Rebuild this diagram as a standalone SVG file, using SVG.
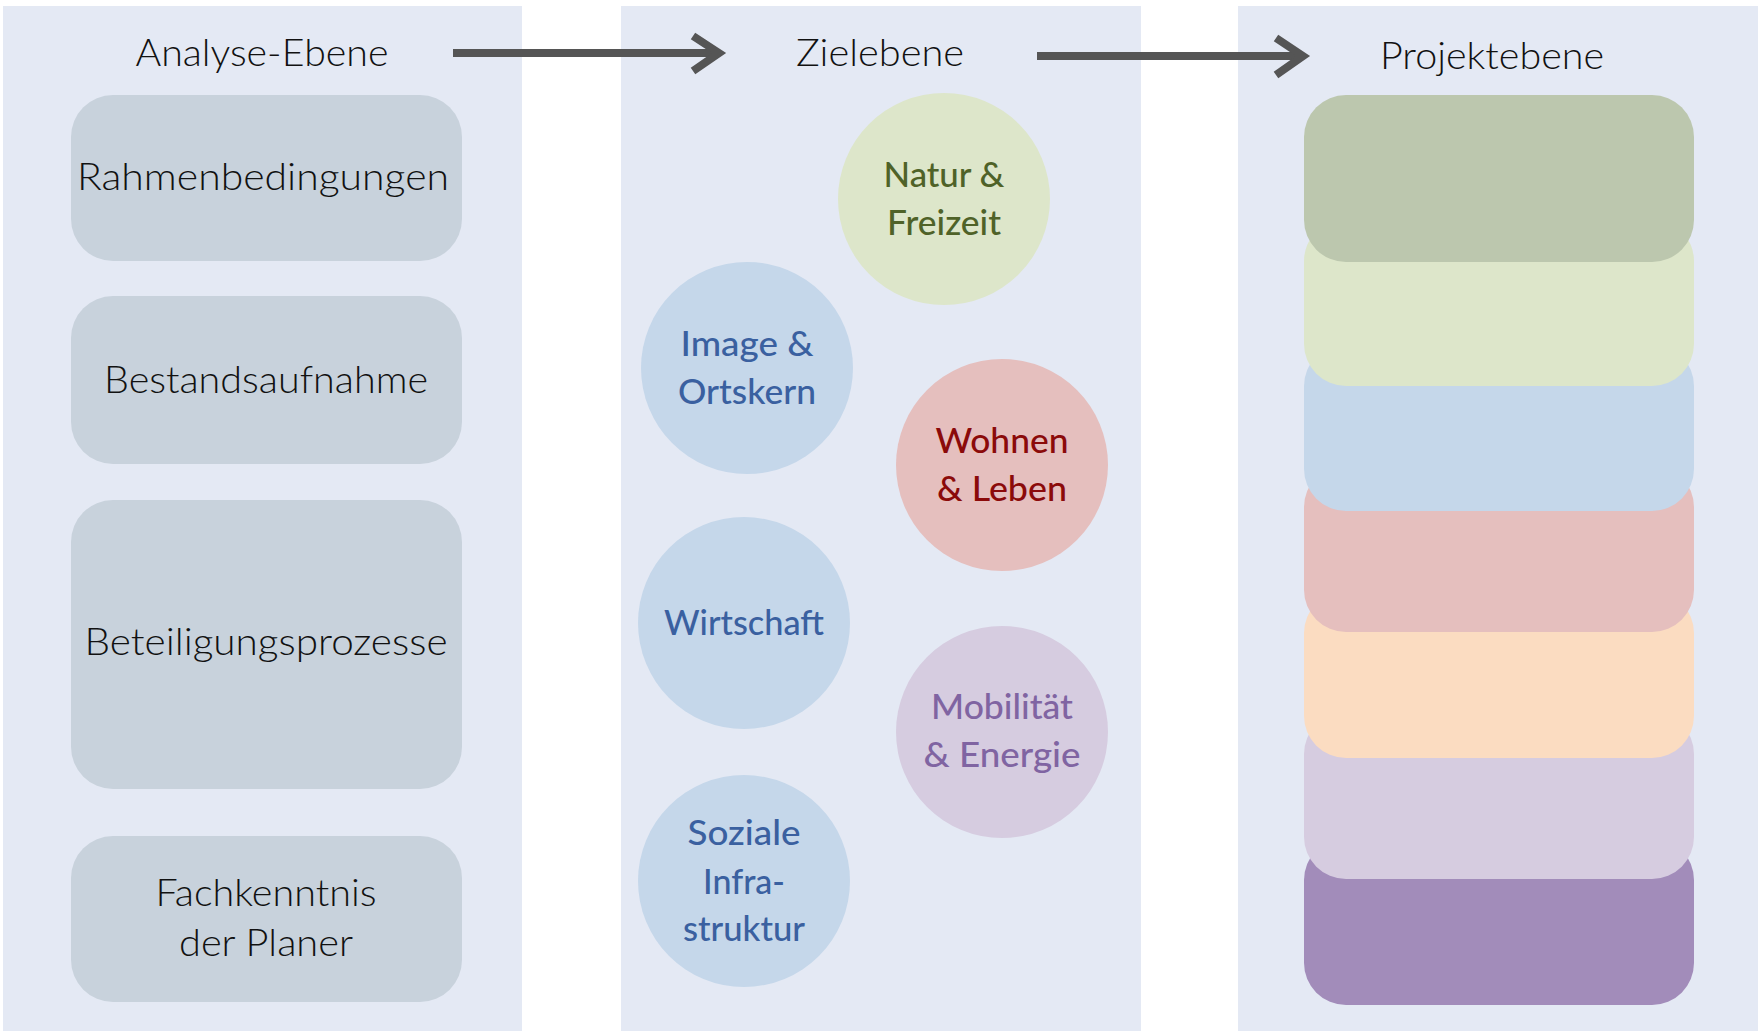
<svg xmlns="http://www.w3.org/2000/svg" width="1758" height="1031" viewBox="0 0 1758 1031">
<style>
.panel{fill:#E4E9F4}
.box{fill:#C8D2DC}
.t{font-family:Lato,"Noto Sans","Liberation Sans",sans-serif;font-size:37px;font-weight:300;fill:#111;text-anchor:middle}
.c{font-family:Lato,"Noto Sans","Liberation Sans",sans-serif;font-size:35px;font-weight:500;text-anchor:middle}
.conn{stroke:#555;stroke-width:8;fill:none}
.head{stroke:#555;stroke-width:8;fill:none;stroke-linecap:butt;stroke-linejoin:miter}
</style>
<rect width="1758" height="1031" fill="#fff"/>
<g id="panels">
<rect class="panel" x="3" y="6" width="519" height="1025"/>
<rect class="panel" x="621" y="6" width="520" height="1025"/>
<rect class="panel" x="1238" y="6" width="520" height="1025"/>
</g>
<g id="titles">
<text class="t" x="262" y="66" textLength="253" lengthAdjust="spacingAndGlyphs">Analyse-Ebene</text>
<text class="t" x="880" y="66" textLength="168" lengthAdjust="spacingAndGlyphs">Zielebene</text>
<text class="t" x="1492" y="69" textLength="224" lengthAdjust="spacingAndGlyphs">Projektebene</text>
</g>
<g id="connectors">
<line class="conn" x1="453" y1="53" x2="718" y2="53"/>
<polyline class="head" points="693,36 719,53 693,71"/>
<line class="conn" x1="1037" y1="56" x2="1302" y2="56"/>
<polyline class="head" points="1276,38 1303,56 1276,75"/>
</g>
<g id="n-rahmen"><rect class="box" x="71" y="95" width="391" height="166" rx="42"/><text class="t" x="263" y="190" textLength="372" lengthAdjust="spacingAndGlyphs">Rahmenbedingungen</text></g>
<g id="n-bestand"><rect class="box" x="71" y="296" width="391" height="168" rx="42"/><text class="t" x="266" y="393" textLength="324" lengthAdjust="spacingAndGlyphs">Bestandsaufnahme</text></g>
<g id="n-beteiligung"><rect class="box" x="71" y="500" width="391" height="289" rx="42"/><text class="t" x="266" y="655" textLength="363" lengthAdjust="spacingAndGlyphs">Beteiligungsprozesse</text></g>
<g id="n-fach"><rect class="box" x="71" y="836" width="391" height="166" rx="42"/><text class="t" x="266" y="906" textLength="221" lengthAdjust="spacingAndGlyphs">Fachkenntnis</text><text class="t" x="266" y="956" textLength="174" lengthAdjust="spacingAndGlyphs">der Planer</text></g>
<g id="n-natur"><circle cx="944" cy="199" r="106" fill="#DDE6CA"/><text class="c" fill="#4F6228" x="944" y="187" textLength="121" lengthAdjust="spacingAndGlyphs">Natur &amp;</text><text class="c" fill="#4F6228" x="944" y="235" textLength="114" lengthAdjust="spacingAndGlyphs">Freizeit</text></g>
<g id="n-image"><circle cx="747" cy="368" r="106" fill="#C5D7EA"/><text class="c" fill="#3A60A0" x="747" y="356" textLength="133" lengthAdjust="spacingAndGlyphs">Image &amp;</text><text class="c" fill="#3A60A0" x="747" y="404" textLength="138" lengthAdjust="spacingAndGlyphs">Ortskern</text></g>
<g id="n-wohnen"><circle cx="1002" cy="465" r="106" fill="#E5BFBE"/><text class="c" fill="#8B0A0A" x="1002" y="453" textLength="133" lengthAdjust="spacingAndGlyphs">Wohnen</text><text class="c" fill="#8B0A0A" x="1002" y="501" textLength="130" lengthAdjust="spacingAndGlyphs">&amp; Leben</text></g>
<g id="n-wirtschaft"><circle cx="744" cy="623" r="106" fill="#C5D7EA"/><text class="c" fill="#3A60A0" x="744" y="635" textLength="160" lengthAdjust="spacingAndGlyphs">Wirtschaft</text></g>
<g id="n-mobil"><circle cx="1002" cy="732" r="106" fill="#D6CCE0"/><text class="c" fill="#8064A2" x="1002" y="719" textLength="142" lengthAdjust="spacingAndGlyphs">Mobilität</text><text class="c" fill="#8064A2" x="1002" y="767" textLength="157" lengthAdjust="spacingAndGlyphs">&amp; Energie</text></g>
<g id="n-sozial"><circle cx="744" cy="881" r="106" fill="#C5D7EA"/><text class="c" fill="#3A60A0" x="744" y="845" textLength="113" lengthAdjust="spacingAndGlyphs">Soziale</text><text class="c" fill="#3A60A0" x="744" y="894" textLength="82" lengthAdjust="spacingAndGlyphs">Infra-</text><text class="c" fill="#3A60A0" x="744" y="941" textLength="122" lengthAdjust="spacingAndGlyphs">struktur</text></g>
<g id="n-projekte">
<rect x="1304" y="838" width="390" height="167" rx="42" fill="#A28CBA"/>
<rect x="1304" y="712" width="390" height="167" rx="42" fill="#D6CCE0"/>
<rect x="1304" y="591" width="390" height="167" rx="42" fill="#FBDCC1"/>
<rect x="1304" y="465" width="390" height="167" rx="42" fill="#E5BFBE"/>
<rect x="1304" y="344" width="390" height="167" rx="42" fill="#C5D7EA"/>
<rect x="1304" y="219" width="390" height="167" rx="42" fill="#DDE6CA"/>
<rect x="1304" y="95" width="390" height="167" rx="42" fill="#BCC7AE"/>
</g>
</svg>
